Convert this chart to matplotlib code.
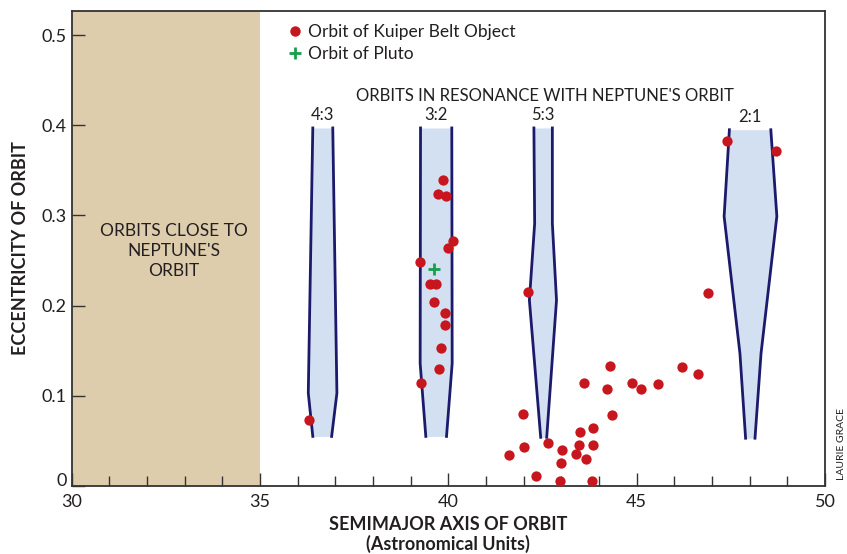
import matplotlib
matplotlib.use("Agg")
from matplotlib import pyplot as plt
from matplotlib.lines import Line2D
from matplotlib.ticker import MultipleLocator
import matplotlib.transforms as mtransforms

# semimajor axis (AU) and eccentricity of Kuiper Belt Objects
kbo_a = [39.85, 39.72, 39.94, 40.11, 39.99, 39.25, 39.52, 39.66, 39.61, 39.91,
         39.91, 39.80, 39.75, 39.27, 36.30, 42.12, 41.99, 46.90, 44.30, 46.21,
         46.62, 43.61, 44.88, 44.22, 45.12, 45.56, 44.35, 43.85, 43.50, 42.65,
         42.01, 41.61, 43.85, 43.47, 43.02, 43.39, 43.66, 43.00, 42.33, 42.97,
         43.82, 47.39, 48.70]
kbo_e = [0.339, 0.324, 0.322, 0.272, 0.264, 0.248, 0.224, 0.224, 0.204, 0.192,
         0.179, 0.153, 0.130, 0.114, 0.073, 0.215, 0.080, 0.214, 0.133, 0.132,
         0.124, 0.114, 0.114, 0.108, 0.108, 0.113, 0.079, 0.064, 0.060, 0.048,
         0.043, 0.034, 0.046, 0.045, 0.040, 0.036, 0.030, 0.025, 0.011, 0.006,
         0.006, 0.383, 0.371]

pluto_a = [39.62]
pluto_e = [0.241]

# resonance zones: eccentricity breakpoints with left/right semimajor axis edges
res_labels = ["4:3", "3:2", "5:3", "2:1"]
res_ecc = [
    [0.397, 0.103, 0.055],
    [0.397, 0.136, 0.055],
    [0.397, 0.291, 0.206, 0.054],
    [0.395, 0.299, 0.147, 0.053],
]
res_left = [
    [36.40, 36.28, 36.40],
    [39.26, 39.25, 39.40],
    [42.27, 42.29, 42.15, 42.45],
    [47.46, 47.32, 47.74, 47.89],
]
res_right = [
    [36.93, 37.04, 36.90],
    [40.09, 40.10, 39.95],
    [42.76, 42.76, 42.87, 42.61],
    [48.56, 48.72, 48.30, 48.14],
]

near_neptune = (30, 35)

plt.rcParams["font.family"] = ["Lato", "DejaVu Sans"]
text_color = "#231f20"
axis_color = "#333333"

fig = plt.figure(figsize=(8.47, 5.54), dpi=100)
ax = fig.add_axes([0.0847, 0.1227, 0.8894, 0.8580])

ax.axvspan(*near_neptune, color="#ddcdad", lw=0, zorder=0)
ax.text(32.7, 0.261, "ORBITS CLOSE TO\nNEPTUNE'S\nORBIT", ha="center", va="center",
        fontsize=12.5, color=text_color, linespacing=1.3)

for lab, ecc, left, right in zip(res_labels, res_ecc, res_left, res_right):
    ax.fill_betweenx(ecc, left, right, color="#d3e0f1", lw=0, zorder=1)
    ax.plot(left, ecc, color="#1b1a6b", lw=2.0, zorder=2, solid_joinstyle="miter")
    ax.plot(right, ecc, color="#1b1a6b", lw=2.0, zorder=2, solid_joinstyle="miter")
    ax.text((left[0] + right[0]) / 2, ecc[0] + 0.005, lab, ha="center", va="bottom",
            fontsize=12, color=text_color)

ax.text(42.57, 0.424, "ORBITS IN RESONANCE WITH NEPTUNE'S ORBIT", ha="center",
        va="bottom", fontsize=12, color=text_color)

ax.scatter(kbo_a, kbo_e, s=55, color="#c8161e", lw=0, zorder=3)
ax.scatter(pluto_a, pluto_e, s=70, marker="+", color="#14a04c", linewidths=2.0, zorder=4)

handles = [
    Line2D([], [], ls="none", marker="o", ms=7.5, color="#c8161e", mew=0),
    Line2D([], [], ls="none", marker="+", ms=8.5, mew=2.0, color="#14a04c"),
]
ax.legend(handles, ["Orbit of Kuiper Belt Object", "Orbit of Pluto"],
          loc="upper left", bbox_to_anchor=(0.275, 0.99), frameon=False,
          fontsize=12.5, handlelength=0.8, handletextpad=0.4, labelspacing=0.35,
          borderpad=0, labelcolor=text_color)

ax.set_xlim(30, 50)
ax.set_ylim(0, 0.527)
ax.xaxis.set_minor_locator(MultipleLocator(1))
ax.set_yticks([0, 0.1, 0.2, 0.3, 0.4, 0.5], ["0", "0.1", "0.2", "0.3", "0.4", "0.5"])
ax.set_xticks([30, 35, 40, 45, 50], ["30", "35", "40", "45", "50"])
ax.tick_params(which="major", direction="in", length=9.5, width=1.0, color=axis_color,
               labelsize=13, labelcolor=text_color)
ax.tick_params(axis="x", which="major", pad=6)
ax.tick_params(which="minor", direction="in", length=7, width=1.0, color=axis_color)
for sp in ax.spines.values():
    sp.set_color(axis_color)
    sp.set_linewidth(1.3)

# lift the "0" label a little so it sits above the corner like the original
zero_label = ax.get_yticklabels()[0]
zero_label.set_transform(zero_label.get_transform()
                         + mtransforms.ScaledTranslation(0, 5 / 72, fig.dpi_scale_trans))

ax.set_xlabel("SEMIMAJOR AXIS OF ORBIT\n(Astronomical Units)", fontsize=13,
              fontweight="bold", color=text_color, labelpad=4, linespacing=1.1)
ax.set_ylabel("ECCENTRICITY OF ORBIT", fontsize=13, fontweight="bold",
              color=text_color, labelpad=9)

fig.text(0.993, 0.133, "LAURIE GRACE", rotation=90, ha="center", va="bottom",
         fontsize=7.5, color=text_color)

fig.savefig("out.png", dpi=100)
